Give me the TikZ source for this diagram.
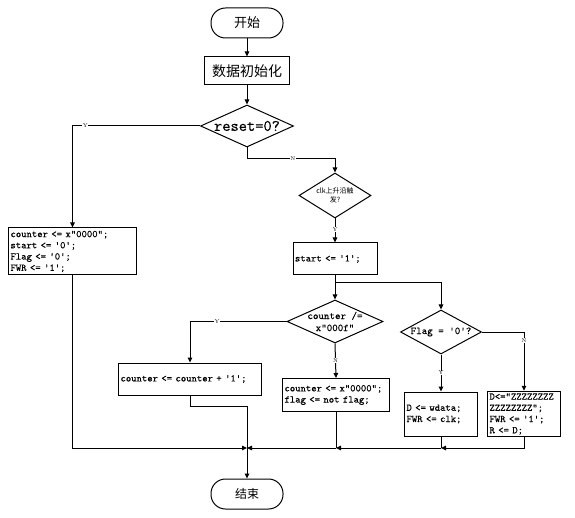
\documentclass[tikz,border=0pt]{standalone}
\usepackage{fontspec}
\newfontfamily\cjk{Noto Sans CJK SC}
\newfontfamily\codefont{Latin Modern Mono}[FakeBold=0.4]
\usetikzlibrary{arrows.meta,positioning,shapes.geometric}

\tikzset{
  base/.style={draw, line width=1pt, inner sep=2pt},
  terminal/.style={base, rounded corners=14.5pt, minimum width=72pt, minimum height=30pt},
  procbox/.style 2 args={base, minimum width=#1, minimum height=#2},
  codebox/.style 2 args={base, text width=#1, minimum height=#2, align=left,
    font=\codefont\fontsize{10.2}{11.2}\selectfont},
  decision/.style 2 args={base, diamond, inner sep=0pt, minimum width=#1, minimum height=#2},
  dtext/.style={align=center, font=\codefont\fontsize{10.5}{12}\selectfont},
  flow/.style={line width=1pt, -{Triangle[length=5pt,width=4.5pt]}},
  plain/.style={line width=1pt},
  yn/.style={font=\fontsize{5.5}{6}\selectfont, fill=white, inner sep=0.6pt},
}

\begin{document}
\begin{tikzpicture}[x=1pt, y=-1pt]
    \useasboundingbox (0,0) rectangle (575,518);

    % Start and init
    \node[terminal, font=\cjk\fontsize{13}{15}\selectfont] (start) at (247,23) {开始};
    \node[procbox={85pt}{28pt}, font=\cjk\fontsize{14}{16}\selectfont] (init) at (247,71) {数据初始化};

    % Reset test
    \node[decision={93pt}{42pt}, label={[dtext, font=\codefont\fontsize{16}{18}\selectfont]center:reset=0?}] (reset) at (247,126) {};
    \node[codebox={124pt}{47pt}] (rstbox) at (72.5,251.5)
        {counter <= x"0000";\\start <= '0';\\Flag <= '0';\\FWR <= '1';};

    % Clock edge
    \node[decision={72pt}{45pt}, label={[align=center, font=\cjk\fontsize{7}{8.5}\selectfont]center:clk上升沿触\\发?}] (clk) at (335,195.5) {};
    \node[codebox={80pt}{32pt}] (setstart) at (335,259) {start <= '1';};

    % Counter test
    \node[decision={96pt}{43pt}, label={[dtext]center:counter /=\\x"000f"}] (cnt) at (335,321.5) {};
    \node[codebox={139pt}{32pt}] (inc) at (190,379) {counter <= counter + '1';};
    \node[codebox={103pt}{33pt}] (clr) at (336,395) {counter <= x"0000";\\flag <= not flag;};

    % Flag test
    \node[decision={81pt}{44pt}, label={[dtext]center:Flag = '0'?}] (flag) at (441,332) {};
    \node[codebox={69pt}{44pt}] (wr) at (441,414) {D <= wdata;\\FWR <= clk;};
    \node[codebox={69pt}{44pt}] (hz) at (524,414) {D<="ZZZZZZZZ\\ZZZZZZZZ";\\FWR <= '1';\\R <= D;};

    % End
    \node[terminal, font=\cjk\fontsize{12}{14}\selectfont] (end) at (247,494) {结束};

    % Junctions
    \coordinate (rstN) at (335,159);
    \coordinate (split) at (335,283);
    \coordinate (merge) at (247,448);

    % Connectors
    \draw[flow] (start) -- (init);
    \draw[flow] (init) -- (reset);
    \draw[flow] (reset.west) -| node[yn, pos=0.45] {Y} (rstbox.north);
    \draw[flow] (reset.south) |- node[yn, pos=0.76] {N} (rstN) -- (clk.north);
    \draw[flow] (clk.south) -- node[yn, pos=0.45] {Y} (setstart.north);
    \draw[plain] (setstart.south) -- (split);
    \draw[flow] (split) -- (cnt.north);
    \draw[flow] (split) -| (flag.north);
    \draw[flow] (cnt.west) -| node[yn, pos=0.36] {Y} (inc.north);
    \draw[flow] (cnt.south) -- node[yn] {N} (clr.north);
    \draw[flow] (flag.south) -- node[yn] {Y} (wr.north);
    \draw[flow] (flag.east) -| node[yn, pos=0.57] {N} (hz.north);

    % Merge
    \draw[flow] (rstbox.south) |- (merge);
    \draw[flow] (inc.south) -- ++(0,11) -| (end.north);
    \draw[plain] (clr.south) -- (clr.south |- merge);
    \draw[plain] (wr.south) -- (wr.south |- merge);
    \draw[flow] (hz.south) |- (wr.south |- merge);
    \draw[flow] (wr.south |- merge) -- (clr.south |- merge);
    \draw[flow] (clr.south |- merge) -- (merge);
\end{tikzpicture}
\end{document}
